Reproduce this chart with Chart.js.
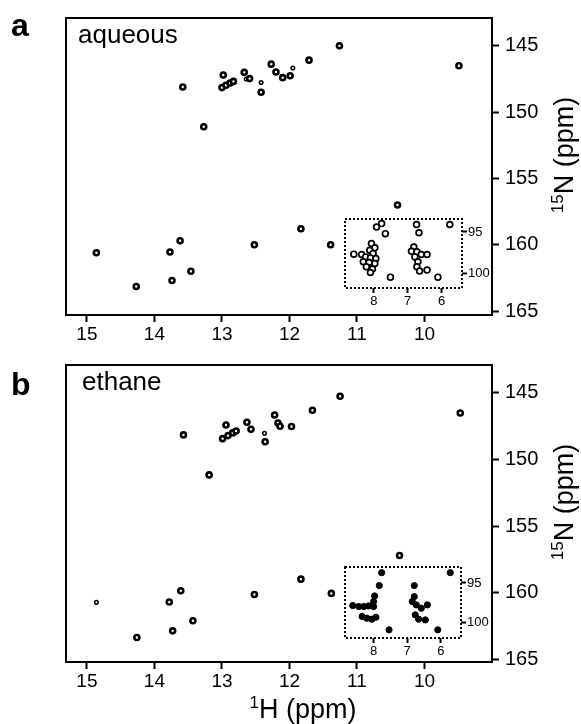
<!DOCTYPE html>
<html>
<head>
<meta charset="utf-8">
<script src="https://cdn.jsdelivr.net/npm/chart.js@4.4.1/dist/chart.umd.min.js"></script>
<style>
  html, body { margin: 0; padding: 0; background: #fff; }
  #wrap { position: relative; width: 581px; height: 724px; background: #fff; overflow: hidden; }
  canvas { position: absolute; }
</style>
</head>
<body>
<div id="wrap">
  <canvas id="mainA" width="581" height="347" style="left:0;top:0;width:581px;height:347px"></canvas>
  <canvas id="insetA" width="170" height="105" style="left:330px;top:205px;width:170px;height:105px"></canvas>
  <canvas id="mainB" width="581" height="377" style="left:0;top:347px;width:581px;height:377px"></canvas>
  <canvas id="insetB" width="170" height="105" style="left:330px;top:553px;width:170px;height:105px"></canvas>
</div>
<script>
// ---------- tick labels ----------
const xTicks = [15, 14, 13, 12, 11, 10];
const yTicks = [145, 150, 155, 160, 165];
const insetXTicks = [8, 7, 6];
const insetYTicks = [95, 100];

// ---------- panel a: aqueous (1H ppm, 15N ppm) ----------
const aqueousH = [13.58, 13.27, 12.98, 13.00, 12.94, 12.88, 12.83, 12.67, 12.59, 12.42,
                  12.27, 12.20, 12.10, 11.99, 11.71, 11.26, 9.49,
                  14.86, 13.62, 13.77, 13.46, 13.74, 14.27, 12.52, 11.83, 11.39, 10.40];
const aqueousN = [148.1, 151.1, 147.2, 148.15, 147.97, 147.8, 147.68, 147.0, 147.47, 148.5,
                  146.38, 146.97, 147.4, 147.25, 146.08, 145.0, 146.5,
                  160.6, 159.7, 160.55, 162.0, 162.7, 163.15, 160.0, 158.8, 160.0, 157.0];
const aqueousWeakH = [12.64, 12.42, 11.95];
const aqueousWeakN = [147.5, 147.77, 146.67];
// inset (aqueous)
const aqueousInsetH = [7.77, 7.92, 7.66, 6.74, 6.67, 5.76, 8.59,
                       8.07, 7.97, 8.12, 8.02, 8.36, 8.24, 8.10, 7.94, 8.31, 8.14, 7.97, 8.22, 8.04, 8.10,
                       6.82, 6.89, 6.73, 6.79, 6.60, 6.43, 6.70, 6.73, 6.65, 6.43, 7.51, 6.11];
const aqueousInsetN = [94.0, 94.4, 95.2, 94.1, 95.1, 94.1, 97.65,
                       96.39, 96.9, 97.18, 97.58, 97.7, 97.98, 98.1, 98.17, 98.57, 98.65, 98.77, 99.17, 99.44, 99.84,
                       96.79, 97.3, 97.38, 97.98, 97.7, 97.7, 98.57, 99.17, 99.68, 99.56, 100.4, 100.4];

// ---------- panel b: ethane ----------
const ethaneH = [13.57, 13.19, 12.94, 12.99, 12.91, 12.84, 12.79, 12.63, 12.57, 12.36,
                 12.22, 12.17, 12.14, 11.97, 11.66, 11.25, 9.47,
                 13.61, 13.78, 13.43, 13.73, 14.26, 12.52, 11.83, 11.38, 10.37];
const ethaneN = [148.15, 151.15, 147.4, 148.43, 148.2, 148.0, 147.86, 147.2, 147.72, 148.66,
                 146.65, 147.26, 147.5, 147.52, 146.3, 145.25, 146.5,
                 159.85, 160.7, 162.1, 162.86, 163.36, 160.13, 158.98, 160.05, 157.2];
const ethaneWeakH = [12.37, 14.86];
const ethaneWeakN = [148.03, 160.72];
// inset (ethane)
const ethaneInsetH = [7.76, 5.72, 7.83, 6.79, 8.62,
                      7.97, 8.00, 8.44, 8.29, 8.15, 8.00, 8.34, 8.20, 8.05, 7.93,
                      6.79, 6.85, 6.73, 6.58, 6.40, 6.76, 6.66, 6.46, 7.54, 6.09];
const ethaneInsetN = [93.71, 93.71, 95.33, 95.33, 97.83,
                      96.63, 97.33, 97.96, 97.96, 97.88, 97.96, 99.2, 99.42, 99.54, 99.3,
                      96.71, 97.33, 97.75, 98.17, 97.75, 99.0, 99.54, 99.63, 100.88, 100.88];

const FONT = '"Liberation Sans", Arial, Helvetica, sans-serif';

function pts(xs, ys) { return xs.map((x, i) => ({ x: x, y: ys[i] })); }

function drawRich(ctx, it) {
  const S = it.size, w = it.bold ? 'bold ' : '';
  const mainFont = w + S + 'px ' + FONT;
  const supFont = w + Math.round(S * 0.62) + 'px ' + FONT;
  ctx.save();
  ctx.fillStyle = '#000';
  ctx.textBaseline = 'alphabetic';
  ctx.textAlign = 'left';
  const widths = [];
  let total = 0;
  it.parts.forEach(p => { ctx.font = p[1] ? supFont : mainFont; const m = ctx.measureText(p[0]).width; widths.push(m); total += m; });
  ctx.translate(it.x, it.y);
  if (it.rot) ctx.rotate(it.rot * Math.PI / 180);
  let cx = it.align === 'center' ? -total / 2 : 0;
  it.parts.forEach((p, i) => {
    ctx.font = p[1] ? supFont : mainFont;
    ctx.fillText(p[0], cx, p[1] ? -S * 0.38 : 0);
    cx += widths[i];
  });
  ctx.restore();
}

function makeDecor(items, dash) {
  return {
    id: 'decor',
    afterDraw(chart) {
      const ctx = chart.ctx, a = chart.chartArea;
      ctx.save();
      ctx.strokeStyle = '#000';
      ctx.lineWidth = 2;
      if (dash) ctx.setLineDash(dash);
      ctx.strokeRect(a.left, a.top, a.right - a.left, a.bottom - a.top);
      ctx.restore();
      items.forEach(it => drawRich(ctx, it));
    }
  };
}

function mainChart(id, datasets, padTop, xH, yMin, yMax, items) {
  return new Chart(document.getElementById(id), {
    type: 'scatter',
    data: { datasets: datasets },
    options: {
      responsive: false, animation: false, devicePixelRatio: 1, events: [],
      layout: { padding: { left: 66, top: padTop, right: 0, bottom: 0 } },
      plugins: { legend: { display: false }, tooltip: { enabled: false } },
      scales: {
        x: {
          type: 'linear', position: 'bottom', reverse: true, min: 9.0, max: 15.31,
          afterBuildTicks: s => { s.ticks = xTicks.map(v => ({ value: v })); },
          afterFit: s => { s.height = xH; },
          grid: { display: true, drawOnChartArea: false, drawTicks: true, tickLength: 7, tickWidth: 2, tickColor: '#000' },
          border: { display: false },
          ticks: { color: '#000', font: { family: FONT, size: 19 }, padding: 1, maxRotation: 0, autoSkip: false, callback: v => String(v) }
        },
        y: {
          type: 'linear', position: 'right', reverse: true, min: yMin, max: yMax,
          afterBuildTicks: s => { s.ticks = yTicks.map(v => ({ value: v })); },
          afterFit: s => { s.width = 89; },
          grid: { display: true, drawOnChartArea: false, drawTicks: true, tickLength: 7, tickWidth: 2, tickColor: '#000' },
          border: { display: false },
          ticks: { color: '#000', font: { family: FONT, size: 20 }, padding: 6, autoSkip: false, callback: v => String(v) }
        }
      }
    },
    plugins: [makeDecor(items, null)]
  });
}

function insetChart(id, datasets, xH, yW, yMin, yMax) {
  return new Chart(document.getElementById(id), {
    type: 'scatter',
    data: { datasets: datasets },
    options: {
      responsive: false, animation: false, devicePixelRatio: 1, events: [],
      layout: { padding: { left: 15, top: 14, right: 0, bottom: 0 } },
      plugins: { legend: { display: false }, tooltip: { enabled: false } },
      scales: {
        x: {
          type: 'linear', position: 'bottom', reverse: true, min: 5.4, max: 8.85,
          afterBuildTicks: s => { s.ticks = insetXTicks.map(v => ({ value: v })); },
          afterFit: s => { s.height = xH; },
          grid: { display: true, drawOnChartArea: false, drawTicks: true, tickLength: 5, tickWidth: 2, tickColor: '#000' },
          border: { display: false },
          ticks: { color: '#000', font: { family: FONT, size: 13 }, padding: 1, maxRotation: 0, autoSkip: false, callback: v => String(v) }
        },
        y: {
          type: 'linear', position: 'right', reverse: true, min: yMin, max: yMax,
          afterBuildTicks: s => { s.ticks = insetYTicks.map(v => ({ value: v })); },
          afterFit: s => { s.width = yW; },
          grid: { display: true, drawOnChartArea: false, drawTicks: true, tickLength: 5, tickWidth: 2, tickColor: '#000' },
          border: { display: false },
          ticks: { color: '#000', font: { family: FONT, size: 13 }, padding: 1, autoSkip: false, callback: v => String(v) }
        }
      }
    },
    plugins: [makeDecor([], [2, 2])]
  });
}

const ring = { pointStyle: 'circle', pointRadius: 2.5, pointBorderWidth: 2.6, pointBorderColor: '#000', pointBackgroundColor: '#fff', showLine: false };
const weak = { pointStyle: 'circle', pointRadius: 1.8, pointBorderWidth: 1.5, pointBorderColor: '#000', pointBackgroundColor: '#fff', showLine: false };
const contour = { pointStyle: 'circle', pointRadius: 2.9, pointBorderWidth: 1.7, pointBorderColor: '#000', pointBackgroundColor: '#fff', showLine: false };
const solid = { pointStyle: 'circle', pointRadius: 3.1, pointBorderWidth: 1, pointBorderColor: '#000', pointBackgroundColor: '#000', showLine: false };

mainChart('mainA', [
  Object.assign({ label: 'aqueous', data: pts(aqueousH, aqueousN) }, ring),
  Object.assign({ label: 'aqueous weak', data: pts(aqueousWeakH, aqueousWeakN) }, weak)
], 15, 32, 142.9, 165.3, [
  { parts: [['a', false]], x: 11, y: 36, size: 32, bold: true },
  { parts: [['aqueous', false]], x: 78, y: 43, size: 26 },
  { parts: [['15', true], ['N (ppm)', false]], x: 573, y: 155, size: 27, rot: -90, align: 'center' }
]);

insetChart('insetA', [
  Object.assign({ label: 'aqueous inset', data: pts(aqueousInsetH, aqueousInsetN) }, contour)
], 22, 38, 93.45, 101.7);

mainChart('mainB', [
  Object.assign({ label: 'ethane', data: pts(ethaneH, ethaneN) }, ring),
  Object.assign({ label: 'ethane weak', data: pts(ethaneWeakH, ethaneWeakN) }, weak)
], 15, 62, 142.9, 165.2, [
  { parts: [['b', false]], x: 11, y: 48, size: 32, bold: true },
  { parts: [['ethane', false]], x: 82, y: 43, size: 26 },
  { parts: [['15', true], ['N (ppm)', false]], x: 573, y: 155, size: 27, rot: -90, align: 'center' },
  { parts: [['1', true], ['H (ppm)', false]], x: 303, y: 371, size: 27, align: 'center' }
]);

insetChart('insetB', [
  Object.assign({ label: 'ethane inset', data: pts(ethaneInsetH, ethaneInsetN) }, solid)
], 20, 39, 93.0, 101.9);
</script>
</body>
</html>
